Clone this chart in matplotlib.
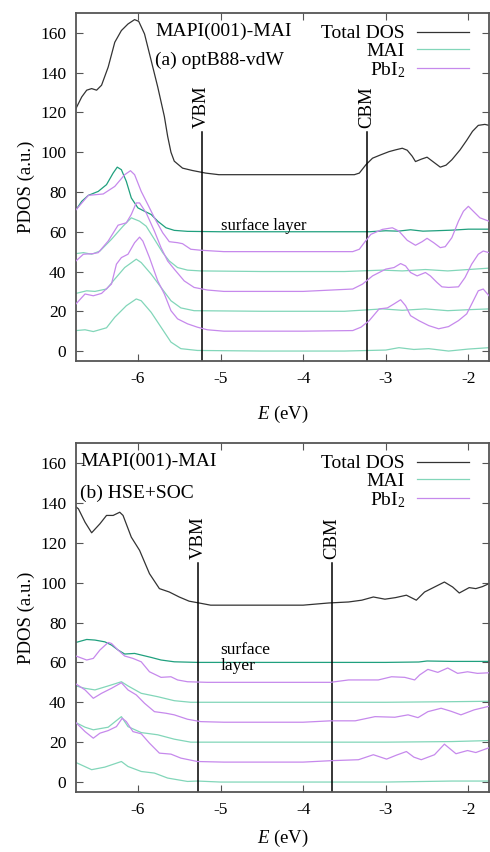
import matplotlib
matplotlib.use("Agg")
import matplotlib.pyplot as plt

plt.rcParams['font.family'] = ['Liberation Serif', 'DejaVu Serif']
plt.rcParams['mathtext.fontset'] = 'custom'
plt.rcParams['mathtext.rm'] = 'Liberation Serif'
plt.rcParams['mathtext.it'] = 'Liberation Serif:italic'

# ---- panel (a) optB88-vdW ----
a_tot_E = [-6.75, -6.68, -6.62, -6.56, -6.50, -6.44, -6.36, -6.28, -6.20, -6.12, -6.04, -5.99, -5.92,
           -5.84, -5.76, -5.68, -5.64, -5.60, -5.56, -5.46, -5.34, -5.18, -5.02, -4.5, -4.0, -3.5, -3.38,
           -3.32, -3.24, -3.16, -3.06, -2.96, -2.88, -2.80, -2.74, -2.68, -2.64, -2.57, -2.50, -2.42,
           -2.34, -2.27, -2.20, -2.10, -2.02, -1.95, -1.88, -1.80, -1.75]
a_tot_V = [122, 127.8, 131.2, 132, 131.2, 133.7, 142.8, 155.3, 161.2, 164.5, 166.7, 165.8, 159.5,
           146.2, 132.8, 118, 108, 100, 95.5, 92, 90.8, 89.5, 88.7, 88.7, 88.7, 88.7, 88.7,
           89.5, 93.7, 97, 98.7, 100.3, 101.2, 102, 101, 98, 95.3, 96.5, 97.5, 95,
           92.5, 93.5, 96.2, 101.2, 106, 110.5, 113.5, 114, 113.5]

a_mai60_E = [-6.75, -6.68, -6.60, -6.48, -6.38, -6.30, -6.25, -6.20, -6.14, -6.08, -6.00, -5.92, -5.84,
             -5.76, -5.66, -5.56, -5.40, -5.0, -4.0, -3.2, -3.0, -2.85, -2.7, -2.55, -2.4, -2.2, -2.0, -1.75]
a_mai60_V = [71, 75.3, 78.3, 80.3, 83.7, 89.5, 92.5, 91.2, 85.3, 77, 72, 70.3, 68.7,
             65.3, 62, 60.7, 60.2, 60, 60, 60, 60.5, 60.3, 61, 60.3, 60.5, 60.8, 61.3, 61.3]

a_pbi50_E = [-6.75, -6.60, -6.42, -6.28, -6.16, -6.09, -6.04, -5.96, -5.88, -5.80, -5.70, -5.62, -5.52,
             -5.46, -5.36, -5.24, -4.96, -4.0, -3.40, -3.32, -3.26, -3.18, -3.04, -2.92, -2.84, -2.74,
             -2.64, -2.56, -2.50, -2.42, -2.34, -2.28, -2.20, -2.12, -2.06, -2.00, -1.94, -1.86, -1.75]
a_pbi50_V = [71, 78.3, 79, 82.8, 88.7, 90.7, 88.7, 80.3, 73.7, 67, 59.5, 55, 54.5,
             54, 51.2, 50.7, 50, 50, 50, 51.2, 54.5, 58.7, 61.2, 62, 60.3, 55.7,
             53.2, 55, 56.7, 54.5, 52, 52.5, 57, 65.3, 70.3, 72.8, 70.3, 67, 65.3]

a_mai40_E = [-6.75, -6.66, -6.56, -6.46, -6.32, -6.18, -6.08, -5.98, -5.90, -5.80, -5.70, -5.62, -5.52,
             -5.40, -5.24, -4.5, -3.5, -3.04, -2.8, -2.52, -2.25, -2.0, -1.75]
a_mai40_V = [49, 49.5, 48.7, 50.3, 56.2, 62.8, 67, 65.3, 62.8, 56.2, 49.5, 45.3, 42,
             40.7, 40.3, 40, 40, 40.7, 40.3, 41, 40.3, 41, 41.7]

a_pbi30_E = [-6.75, -6.66, -6.54, -6.48, -6.36, -6.24, -6.14, -6.08, -6.02, -5.98, -5.90, -5.80, -5.72,
             -5.64, -5.56, -5.44, -5.32, -5.16, -4.96, -4.0, -3.40, -3.28, -3.16, -3.00, -2.90, -2.82,
             -2.76, -2.70, -2.62, -2.52, -2.46, -2.38, -2.32, -2.24, -2.12, -2.04, -1.96, -1.88, -1.82, -1.75]
a_pbi30_V = [45.3, 48.7, 49, 49.5, 55.3, 63.3, 64.5, 68.7, 74.5, 74.5, 69.5, 60.3, 52,
             45.3, 41.2, 35.3, 32, 30.7, 30, 30, 31.2, 33.7, 37.8, 41.2, 42, 44,
             42.8, 39.5, 37.8, 39.5, 37.8, 34.5, 32.3, 32, 32.3, 37, 43.7, 48.7, 50.3, 49.5]

a_mai20_E = [-6.75, -6.62, -6.52, -6.38, -6.28, -6.16, -6.02, -5.96, -5.84, -5.72, -5.60, -5.48, -5.32,
             -4.5, -3.5, -3.04, -2.8, -2.52, -2.25, -2.0, -1.75]
a_mai20_V = [29, 30.3, 30, 31.2, 36.2, 42, 46.2, 44.5, 38.7, 32, 25.3, 21.7, 20.3,
             20, 20, 21.2, 20.5, 21.2, 20.3, 20.8, 21.2]

a_pbi10_E = [-6.75, -6.64, -6.54, -6.44, -6.32, -6.26, -6.20, -6.12, -6.04, -5.98, -5.94, -5.86, -5.76,
             -5.68, -5.60, -5.52, -5.40, -5.28, -5.16, -4.96, -4.0, -3.40, -3.30, -3.20, -3.08, -2.98,
             -2.90, -2.82, -2.76, -2.70, -2.60, -2.48, -2.36, -2.24, -2.12, -2.02, -1.94, -1.88, -1.82, -1.75]
a_pbi10_V = [23.7, 28.7, 27.8, 29, 33.7, 43.7, 47, 48.7, 54.5, 57.3, 55.3, 47, 35.3,
             28.7, 20.3, 16.2, 13.7, 12, 10.7, 10, 10, 10.3, 12, 15.3, 21.2, 21.7,
             23.7, 25.8, 22.8, 17.8, 15.3, 12.8, 11.2, 12.3, 15.3, 18.7, 25.3, 30.3, 31.2, 27.8]

a_mai0_E = [-6.75, -6.64, -6.54, -6.38, -6.28, -6.14, -6.02, -5.96, -5.84, -5.72, -5.60, -5.48, -5.28,
            -4.5, -3.5, -3.0, -2.84, -2.66, -2.48, -2.24, -2.0, -1.75]
a_mai0_V = [10.3, 10.7, 9.8, 11.7, 17, 22.8, 26.2, 25.3, 19.5, 12, 4.5, 1.2, 0.3,
            0, 0, 0.5, 1.7, 0.8, 1.2, 0, 1, 1.7]

# ---- panel (b) HSE+SOC ----
b_tot_E = [-6.75, -6.72, -6.64, -6.56, -6.46, -6.38, -6.30, -6.22, -6.18, -6.08, -5.98, -5.86, -5.74,
           -5.62, -5.50, -5.38, -5.26, -5.12, -4.5, -4.0, -3.69, -3.45, -3.29, -3.15, -3.01, -2.88,
           -2.75, -2.63, -2.53, -2.41, -2.29, -2.19, -2.11, -1.99, -1.91, -1.83, -1.75]
b_tot_V = [138, 137, 130.3, 125, 129.5, 133.7, 133.7, 135.3, 133.7, 122.8, 116.2, 104.5, 97,
           95.3, 92.8, 90.7, 89.8, 88.7, 88.7, 88.7, 89.8, 90.3, 91.2, 92.8, 91.7, 92.5,
           93.7, 91.2, 95.3, 97.8, 100.3, 97.8, 94.8, 97.5, 97, 98, 99.5]

b_mai60_E = [-6.75, -6.62, -6.52, -6.40, -6.32, -6.24, -6.16, -6.04, -5.96, -5.84, -5.72, -5.56, -5.28,
             -4.0, -3.0, -2.6, -2.5, -2.2, -1.75]
b_mai60_V = [70, 71.5, 71.2, 70.3, 68.7, 66.2, 64.2, 64.5, 63.7, 62.5, 61.2, 60.3, 60,
             60, 60, 60.2, 60.7, 60.5, 60.5]

b_pbi50_E = [-6.75, -6.62, -6.54, -6.46, -6.36, -6.32, -6.24, -6.16, -6.06, -5.96, -5.86, -5.72, -5.60,
             -5.52, -5.40, -5.16, -4.0, -3.67, -3.45, -3.09, -2.93, -2.77, -2.65, -2.59, -2.49, -2.37,
             -2.25, -2.13, -2.01, -1.89, -1.75]
b_pbi50_V = [63.2, 61.2, 62, 66.2, 70, 69.5, 66.2, 63.2, 62, 60.3, 55.3, 52.5, 52.8,
             51.2, 50.3, 50, 50, 50, 51.2, 51.2, 52.8, 52.5, 51.2, 53.7, 56.5, 55,
             57.2, 54.5, 55.3, 54.5, 54.8]

b_mai40_E = [-6.75, -6.64, -6.52, -6.36, -6.20, -6.12, -5.96, -5.76, -5.56, -5.36, -4.0, -3.0, -2.2, -1.75]
b_mai40_V = [48.2, 47, 46.2, 48.2, 50.3, 48.2, 44.5, 42.8, 40.8, 40, 40, 40, 40.3, 40.5]

b_pbi30_E = [-6.75, -6.64, -6.54, -6.44, -6.32, -6.20, -6.12, -6.02, -5.92, -5.80, -5.66, -5.56, -5.40,
             -5.24, -4.96, -4.0, -3.67, -3.37, -3.13, -2.89, -2.73, -2.61, -2.49, -2.33, -2.21, -2.09,
             -1.93, -1.75]
b_pbi30_V = [49.2, 46.2, 42, 44.5, 47, 49.8, 46.2, 43.7, 39.5, 35.3, 34.5, 33.7, 31.5,
             30.3, 30, 30, 30.7, 30.7, 32.8, 32.5, 33.7, 32.3, 35.3, 37, 35.5, 33.7,
             36.2, 38]

b_mai20_E = [-6.75, -6.64, -6.54, -6.36, -6.20, -6.12, -5.96, -5.76, -5.56, -5.36, -4.0, -3.0, -2.2, -1.75]
b_mai20_V = [29.8, 27.5, 26.2, 27.5, 32.8, 27.8, 24.8, 23.7, 21.5, 20, 20, 20, 20.3, 20.8]

b_pbi10_E = [-6.75, -6.64, -6.54, -6.46, -6.36, -6.26, -6.19, -6.14, -6.06, -5.96, -5.86, -5.74, -5.60,
             -5.48, -5.28, -4.96, -4.0, -3.67, -3.33, -3.15, -2.99, -2.87, -2.75, -2.66, -2.57, -2.41,
             -2.29, -2.15, -2.01, -1.91, -1.75]
b_pbi10_V = [29.8, 25.3, 22, 24.5, 25.8, 27.8, 32, 30.3, 25.3, 24.2, 19.5, 14.5, 14,
             12, 10.3, 10, 10, 10.7, 11.2, 13.7, 11.5, 13.5, 15.3, 12.5, 11.2, 13.7,
             19, 14.2, 15.8, 14.8, 17.2]

b_mai0_E = [-6.75, -6.56, -6.40, -6.20, -6.12, -5.96, -5.80, -5.64, -5.40, -5.28, -5.0, -4.0, -3.0, -2.2, -1.75]
b_mai0_V = [9.8, 6.2, 7.5, 10.3, 7.8, 5.3, 4.5, 2, 0.3, 0.5, 0, 0, 0, 0.5, 0.5]

vbm = [-5.23, -5.27]
cbm = [-3.23, -3.65]

c_tot = '#333333'
c_mai = '#82d6b9'
c_surf = '#20a07e'
c_pbi = '#c689ec'

fig = plt.figure(figsize=(4.9, 8.52), dpi=100)
ax1 = fig.add_axes([0.155, 0.5763, 0.843, 0.4084])
ax2 = fig.add_axes([0.155, 0.0704, 0.843, 0.4096])

panels = [
    (ax1, a_tot_E, a_tot_V,
     [(a_mai0_E, a_mai0_V), (a_mai20_E, a_mai20_V), (a_mai40_E, a_mai40_V), (a_mai60_E, a_mai60_V)],
     [(a_pbi10_E, a_pbi10_V), (a_pbi30_E, a_pbi30_V), (a_pbi50_E, a_pbi50_V)]),
    (ax2, b_tot_E, b_tot_V,
     [(b_mai0_E, b_mai0_V), (b_mai20_E, b_mai20_V), (b_mai40_E, b_mai40_V), (b_mai60_E, b_mai60_V)],
     [(b_pbi10_E, b_pbi10_V), (b_pbi30_E, b_pbi30_V), (b_pbi50_E, b_pbi50_V)]),
]

for i, (ax, tE, tV, mai, pbi) in enumerate(panels):
    ax.plot(tE, tV, color=c_tot, lw=0.9, label='Total DOS')
    for j, (e, v) in enumerate(mai):
        col = c_surf if j == 3 else c_mai
        ax.plot(e, v, color=col, lw=0.9, label='MAI' if j == 0 else None, zorder=2)
    for j, (e, v) in enumerate(pbi):
        ax.plot(e, v, color=c_pbi, lw=0.9, label='PbI$_2$' if j == 0 else None, zorder=3)

    ax.plot([vbm[i], vbm[i]], [-5, 110], color='black', lw=1.1)
    ax.plot([cbm[i], cbm[i]], [-5, 110], color='black', lw=1.1)
    ax.text(vbm[i], 112, 'VBM', rotation=90, ha='center', va='bottom', fontsize=13.5)
    ax.text(cbm[i], 112, 'CBM', rotation=90, ha='center', va='bottom', fontsize=13.5)

    ax.set_xlim(-6.75, -1.75)
    ax.set_ylim(-5, 170)
    ax.set_xticks([-6, -5, -4, -3, -2])
    ax.set_xticklabels(['-6', '-5', '-4', '-3', '-2'])
    ax.set_yticks(range(0, 161, 20))
    ax.tick_params(direction='in', top=True, right=True, labelsize=12.5, length=5,
                   width=0.8, color='#555555', pad=7)
    for s in ax.spines.values():
        s.set_color('#555555')
        s.set_linewidth(1.3)
    ax.set_ylabel('PDOS (a.u.)', fontsize=13.5, labelpad=4)

    leg = ax.legend(loc='upper right', bbox_to_anchor=(0.98, 1.0), frameon=False, markerfirst=False,
                    fontsize=14, handlelength=2.7, labelspacing=0.0, handletextpad=0.6,
                    borderaxespad=0.2)
    for t in leg.get_texts():
        t.set_ha('right')

ax1.set_xlabel('$E$ (eV)', fontsize=13.5, labelpad=12)
ax2.set_xlabel('$E$ (eV)', fontsize=13.5, labelpad=7)

ax1.text(-5.0, 63, 'surface layer', fontsize=12, va='center', ha='left')
ax1.text(-5.79, 161, 'MAPI(001)-MAI', fontsize=14, va='center', ha='left')
ax1.text(-5.79, 146, '(a) optB88-vdW', fontsize=14, va='center', ha='left')

ax2.text(-5.0, 66, 'surface', fontsize=12.5, va='center', ha='left')
ax2.text(-5.0, 58, 'layer', fontsize=12.5, va='center', ha='left')
ax2.text(-6.70, 161, 'MAPI(001)-MAI', fontsize=14, va='center', ha='left')
ax2.text(-6.70, 145, '(b) HSE+SOC', fontsize=14, va='center', ha='left')

fig.savefig('out.png', dpi=100)
